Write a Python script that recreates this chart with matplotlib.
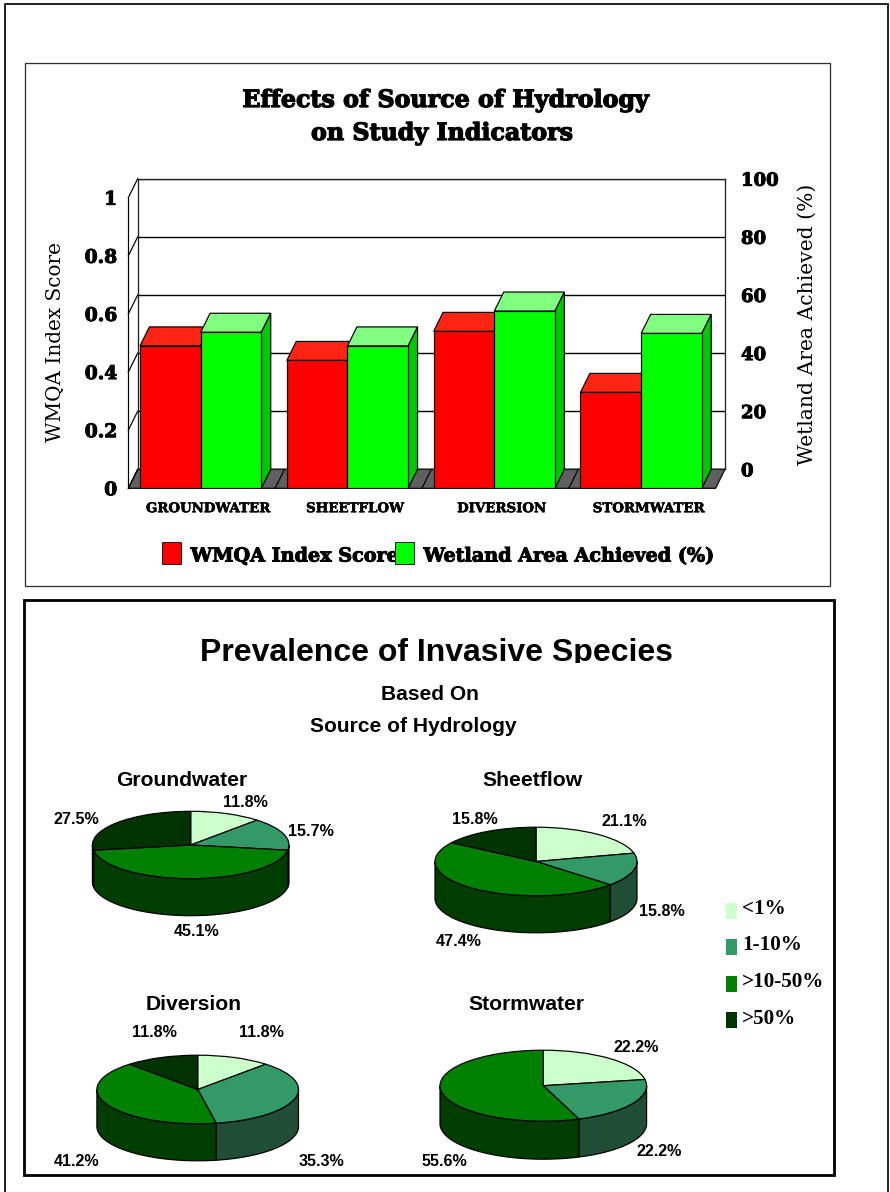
import numpy as np
import matplotlib
matplotlib.use("Agg")
import matplotlib.pyplot as plt
import matplotlib.patheffects as pe
from matplotlib.patches import Rectangle, Wedge, Polygon
from matplotlib.transforms import ScaledTranslation

# ---------- data ----------
categories = ["GROUNDWATER", "SHEETFLOW", "DIVERSION", "STORMWATER"]
wmqa_score = [0.49, 0.44, 0.54, 0.33]
wetland_area = [53.7, 49.0, 61.0, 53.3]
left_ticks = [0, 0.2, 0.4, 0.6, 0.8, 1]
left_tick_labels = ["0", "0.2", "0.4", "0.6", "0.8", "1"]
right_ticks = [0, 20, 40, 60, 80, 100]

pie_titles = ["Groundwater", "Sheetflow", "Diversion", "Stormwater"]
pct_groundwater = [11.8, 15.7, 45.1, 27.5]
pct_sheetflow = [21.1, 15.8, 47.4, 15.8]
pct_diversion = [11.8, 35.3, 41.2, 11.8]
pct_stormwater = [22.2, 22.2, 55.6]
cover_classes = ["<1%", "1-10%", ">10-50%", ">50%"]

# ---------- style ----------
W, H = 890, 1192
SERIF = "DejaVu Serif"
SANS = "Liberation Sans"
TIMES = "Liberation Serif"
RED, RED_TOP = "#FF0000", "#FF2414"
GREEN, GREEN_TOP, GREEN_SIDE = "#00FF00", "#80FF80", "#00C800"
FLOOR = "#606060"
TOP_COLORS = ["#CCFFCC", "#339966", "#008000", "#003300"]
SIDE_COLORS = ["#A0C8A0", "#1F4D36", "#003D00", "#002800"]
PX = 0.72  # line width in points for one pixel at 100 dpi


def heavy(width):
    """Outline that thickens the slab lettering."""
    return [pe.withStroke(linewidth=width, foreground="black")]


fig = plt.figure(figsize=(W / 100, H / 100), dpi=100, facecolor="white")


def axes_px(left, top, right, bottom, **kw):
    """Axes placed by its pixel box, measured from the top left of the figure."""
    return fig.add_axes([left / W, 1 - bottom / H, (right - left) / W, (bottom - top) / H], **kw)


# ---------- bar chart: a back wall with the gridlines, then the front plane ----------
FRONT = (128.3, 197.7, 715.6, 488.3)
SHIFT_X, SHIFT_Y = 9.4, 19.0
cat_px = (FRONT[2] - FRONT[0]) / len(categories)
plane_h = FRONT[3] - FRONT[1]
depth_x = SHIFT_X / cat_px
depth_frac = SHIFT_Y / plane_h
bar_w = 60.67 / cat_px

wall = axes_px(FRONT[0] + SHIFT_X, FRONT[1] - SHIFT_Y, FRONT[2] + SHIFT_X, FRONT[3] - SHIFT_Y, zorder=1)
wall.set_xlim(0, len(categories))
wall.set_ylim(0, 100)
wall.set_xticks([])
wall.set_yticks(right_ticks)
wall.yaxis.tick_right()
wall.tick_params(axis="y", length=0, pad=11.5)
for lab in wall.get_yticklabels():
    lab.set(family=SERIF, weight="bold", fontsize=13, path_effects=heavy(0.7))
wall.grid(axis="y", color="black", lw=1.4 * PX)
for s in wall.spines.values():
    s.set(linewidth=1.3 * PX, color="#202020")
d_pct = depth_frac * 100

# floor with category dividers, and the left wall's edges
wall.add_patch(Polygon([(0, 0), (4, 0), (4 - depth_x, -d_pct), (-depth_x, -d_pct)], closed=True,
                       fc=FLOOR, ec="black", lw=1.2 * PX, clip_on=False))
for k in range(1, len(categories)):
    wall.plot([k, k - depth_x], [0, -d_pct], color="black", lw=1.2 * PX, clip_on=False)
for t in right_ticks:
    wall.plot([0, -depth_x], [t, t - d_pct], color="black", lw=1.2 * PX, clip_on=False)
wall.plot([-depth_x, -depth_x], [-d_pct, 100 - d_pct], color="black", lw=1.2 * PX, clip_on=False)

front = axes_px(*FRONT, zorder=2)
front.patch.set_visible(False)
front.set_xlim(0, len(categories))
front.set_ylim(0, 1)
front.set_yticks(left_ticks, left_tick_labels, family=SERIF, weight="bold", fontsize=13.5)
front.set_xticks(np.arange(len(categories)) + 0.5, categories, family=SERIF, weight="bold", fontsize=9.6)
front.tick_params(axis="both", length=0)
front.tick_params(axis="y", pad=8)
front.tick_params(axis="x", pad=10)
for lab in front.get_yticklabels():
    lab.set_path_effects(heavy(0.7))
for lab in front.get_xticklabels():
    lab.set_path_effects(heavy(0.4))
    lab.set_transform(lab.get_transform() + ScaledTranslation(6.5 / 100, 0, fig.dpi_scale_trans))
for s in front.spines.values():
    s.set_visible(False)

front2 = front.twinx()
front2.set_zorder(3)
front2.patch.set_visible(False)
front2.set_ylim(0, 100)
front2.set_yticks([])
for s in front2.spines.values():
    s.set_visible(False)


def bar3d(ax, x, value, depth_y, col, top_col, side_col):
    """Front face with ax.bar, top and side faces offset by the chart's depth."""
    ax.bar(x, value, width=bar_w, align="edge", color=col, edgecolor="black", linewidth=1.2 * PX, zorder=3)
    r = x + bar_w
    ax.add_patch(Polygon([(x, value), (r, value), (r + depth_x, value + depth_y), (x + depth_x, value + depth_y)],
                         closed=True, fc=top_col, ec="black", lw=1.2 * PX, clip_on=False, zorder=2))
    ax.add_patch(Polygon([(r, 0), (r, value), (r + depth_x, value + depth_y), (r + depth_x, depth_y)],
                         closed=True, fc=side_col, ec="black", lw=1.2 * PX, clip_on=False, zorder=2))


margin = 11.7 / cat_px
for i in range(len(categories)):
    bar3d(front, i + margin, wmqa_score[i], depth_frac, RED, RED_TOP, "#C80000")
    bar3d(front2, i + margin + bar_w, wetland_area[i], d_pct, GREEN, GREEN_TOP, GREEN_SIDE)


# ---------- pie charts ----------
def pie3d(cx, cy, rx, ry, thick, values):
    """Tilted pie: slices run clockwise from twelve o'clock on a squashed unit circle."""
    t = thick / ry
    ax = axes_px(cx - rx - 3, cy - ry - 3, cx + rx + 3, cy + ry + thick + 3, zorder=4)
    ax.set_xlim(-1 - 3 / rx, 1 + 3 / rx)
    ax.set_ylim(-1 - t - 3 / ry, 1 + 3 / ry)
    ax.axis("off")
    total = sum(values)
    start = 0.0
    for val, top, side in zip(values, TOP_COLORS[:len(values)], SIDE_COLORS[:len(values)]):
        end = start + 360 * val / total
        a, b = max(start, 90), min(end, 270)
        if b > a:
            th = np.radians(np.linspace(a, b, 80))
            xs, ys = np.sin(th), np.cos(th)
            ax.add_patch(Polygon(np.r_[np.c_[xs, ys], np.c_[xs, ys - t][::-1]], closed=True,
                                 fc=side, ec="black", lw=1.2 * PX))
        ax.add_patch(Wedge((0, 0), 1, 90 - end, 90 - start, fc=top, ec="black", lw=1.2 * PX))
        start = end


pie3d(190.7, 845.0, 98.3, 33.7, 37.0, pct_groundwater)
pie3d(536.0, 861.5, 101.0, 34.3, 37.0, pct_sheetflow)
pie3d(197.7, 1089.5, 100.8, 34.3, 37.0, pct_diversion)
pie3d(543.3, 1085.7, 103.3, 35.5, 38.0, pct_stormwater)

# ---------- frames, titles, labels and legends on a pixel overlay ----------
ov = axes_px(0, 0, W, H, zorder=5)
ov.set_xlim(0, W)
ov.set_ylim(H, 0)
ov.axis("off")

ov.plot([4.5, 4.5, 888, 888], [H, 4.2, 4.2, H], color="black", lw=1.7 * PX, solid_joinstyle="miter")
ov.add_patch(Rectangle((25, 62.5), 804.5, 523, fc="none", ec="#303030", lw=1.3 * PX))
ov.add_patch(Rectangle((23.8, 600), 810, 575, fc="none", ec="black", lw=2.8 * PX))


def label(x, y, s, family, size, weight="bold", stroke=0.0, **kw):
    kw.setdefault("ha", "center")
    kw.setdefault("va", "center")
    t = ov.text(x, y, s, family=family, fontsize=size, weight=weight, color="black", **kw)
    if stroke:
        t.set_path_effects(heavy(stroke))
    return t


label(446, 100, "Effects of Source of Hydrology", SERIF, 17.1, stroke=0.9)
label(442, 133, "on Study Indicators", SERIF, 17.1, stroke=0.9)
label(56, 341.7, "WMQA Index Score", SERIF, 14.4, weight="normal", rotation=90)
label(807, 324.6, "Wetland Area Achieved (%)", SERIF, 14.6, weight="normal", rotation=90)

# bar chart legend: the second swatch sits over the end of the first entry
label(190.7, 556.5, "WMQA Index Score", SERIF, 13.8, stroke=0.7, ha="left")
label(423.5, 556.5, "Wetland Area Achieved (%)", SERIF, 13.8, stroke=0.7, ha="left")
ov.add_patch(Rectangle((161.7, 541.7), 19, 21.8, fc=RED, ec="#202020", lw=1 * PX, zorder=4))
ov.add_patch(Rectangle((395, 541.7), 18.7, 21.8, fc=GREEN, ec="#202020", lw=1 * PX, zorder=4))

# heading of the lower panel, cut off just under its baseline
head = label(436.7, 653, "Prevalence of Invasive Species", SANS, 23)
head.set_clip_path(Rectangle((0, 600), W, 62.5, transform=ov.transData))
head.set_clip_on(True)
label(430, 694.5, "Based On", SANS, 15.1)
label(413.7, 727, "Source of Hydrology", SANS, 15.1)

for (x, y), s in zip([(181.7, 781), (532.7, 781), (194, 1004.7), (526, 1005)], pie_titles):
    label(x, y, s, SANS, 15.2)

groups = [
    (pct_groundwater, [(245.7, 802.7), (311, 831.7), (197, 932), (76.7, 819)]),
    (pct_sheetflow, [(624, 822), (661.7, 911.7), (459, 942), (475, 819)]),
    (pct_diversion, [(261, 1032.7), (321.7, 1161), (76.7, 1161), (154, 1032.7)]),
    (pct_stormwater, [(636, 1047), (659.3, 1151), (444.3, 1161)]),
]
for values, spots in groups:
    for v, (x, y) in zip(values, spots):
        label(x, y, f"{v:.1f}%", SANS, 11.6)

for (sw_top, text_y), name, col in zip([(902.7, 908.5), (939, 945), (976, 982), (1012, 1018.5)], cover_classes, TOP_COLORS):
    ov.add_patch(Rectangle((726, sw_top), 11, 16, fc=col, ec="none"))
    label(742, text_y, name, TIMES, 15.2, ha="left")

fig.savefig("out.png", dpi=100, facecolor="white")
